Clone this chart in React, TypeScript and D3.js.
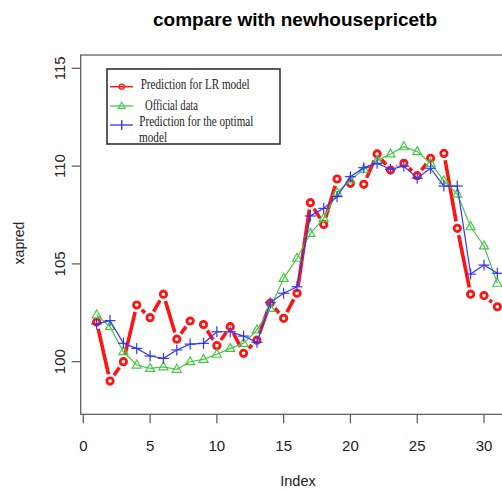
import React from "react";
import * as d3 from "d3";

const index = d3.range(1, 32);
const lrPred = [102.03, 99.01, 100.0, 102.9, 102.25, 103.45, 101.15, 102.08, 101.9, 100.82, 101.79, 100.43, 101.1, 103.0, 102.22, 103.5, 108.13, 107.02, 109.34, 109.12, 109.07, 110.62, 109.8, 110.14, 109.51, 110.4, 110.65, 106.82, 103.45, 103.38, 102.81];
const official = [102.39, 101.79, 100.51, 99.83, 99.66, 99.74, 99.61, 100.0, 100.12, 100.38, 100.68, 100.94, 101.62, 102.73, 104.26, 105.29, 106.56, 107.33, 108.64, 109.29, 109.84, 110.28, 110.62, 110.99, 110.74, 110.14, 109.25, 108.57, 106.9, 105.92, 104.01];
const optimal = [101.93, 102.1, 100.94, 100.68, 100.29, 100.17, 100.6, 100.9, 100.94, 101.53, 101.53, 101.31, 100.99, 103.02, 103.5, 103.83, 107.45, 107.84, 108.44, 109.46, 109.92, 110.14, 109.84, 110.0, 109.38, 109.89, 108.98, 108.98, 104.48, 104.94, 104.52];
const xTicks = [0, 5, 10, 15, 20, 25, 30];
const yTicks = [100, 105, 110, 115];

const RED = "#ff1414";
const GREEN = "#46c846";
const BLUE = "#3535f5";

export default function App() {
  const x = d3.scaleLinear().domain([0, 30]).range([83.3, 484]);
  const y = d3.scaleLinear().domain([100, 115]).range([361.7, 68.3]);
  const box = { l: 80.7, t: 55, r: 530, b: 414.3 };

  const redPts = index.map((d, i) => [x(d), y(lrPred[i])] as [number, number]);
  const greenPts = index.map((d, i) => [x(d), y(official[i])] as [number, number]);
  const bluePts = index.map((d, i) => [x(d), y(optimal[i])] as [number, number]);
  const line = d3.line();

  const gap = 7;
  const redSegs: JSX.Element[] = [];
  for (let i = 0; i < redPts.length - 1; i++) {
    const [x1, y1] = redPts[i];
    const [x2, y2] = redPts[i + 1];
    const dx = x2 - x1, dy = y2 - y1;
    const dist = Math.hypot(dx, dy);
    if (dist <= 2 * gap) continue;
    const ux = dx / dist, uy = dy / dist;
    redSegs.push(
      <line key={i} x1={x1 + ux * gap} y1={y1 + uy * gap} x2={x2 - ux * gap} y2={y2 - uy * gap}
        stroke={RED} strokeWidth={3.6} />
    );
  }

  const tri = (cx: number, cy: number, s: number) =>
    `M${cx},${cy - s}L${cx + s * 0.9},${cy + s * 0.6}L${cx - s * 0.9},${cy + s * 0.6}Z`;

  const sans = "Liberation Sans, Arial, sans-serif";
  const serif = "Liberation Serif, Times New Roman, serif";

  return (
    <svg width={502} height={489} style={{ position: "absolute", left: 0, top: 0, background: "#fff" }}>
      <rect x={0} y={0} width={502} height={489} fill="#fff" />
      <text x={295} y={26} textAnchor="middle" fontFamily={sans} fontWeight="bold" fontSize={18.5}
        textLength={284} lengthAdjust="spacingAndGlyphs">
        compare with newhousepricetb
      </text>
      <rect x={box.l} y={box.t} width={box.r - box.l} height={box.b - box.t} fill="none" stroke="#555" strokeWidth={1.2} />
      {xTicks.map(t => (
        <g key={t}>
          <line x1={x(t)} x2={x(t)} y1={box.b} y2={box.b + 9} stroke="#555" strokeWidth={1.2} />
          <text x={x(t)} y={451} textAnchor="middle" fontFamily={sans} fontSize={15} fill="#222">{t}</text>
        </g>
      ))}
      {yTicks.map(t => (
        <g key={t}>
          <line x1={box.l - 9} x2={box.l} y1={y(t)} y2={y(t)} stroke="#555" strokeWidth={1.2} />
          <text transform={`translate(65,${y(t)}) rotate(-90)`} textAnchor="middle" fontFamily={sans} fontSize={15} fill="#222">{t}</text>
        </g>
      ))}
      <text transform="translate(24,243) rotate(-90)" textAnchor="middle" fontFamily={sans} fontSize={14} fill="#222">xapred</text>
      <text x={298} y={486} textAnchor="middle" fontFamily={sans} fontSize={14.5} fill="#222">Index</text>

      {/* LR prediction */}
      <g>{redSegs}</g>
      {redPts.map(([cx, cy], i) => (
        <circle key={i} cx={cx} cy={cy} r={3.2} fill="none" stroke={RED} strokeWidth={2.8} />
      ))}
      {/* Official data */}
      <path d={line(greenPts) || ""} fill="none" stroke={GREEN} strokeWidth={1.2} />
      {greenPts.map(([cx, cy], i) => (
        <path key={i} d={tri(cx, cy, 5)} fill="none" stroke={GREEN} strokeWidth={1.2} />
      ))}
      {/* Optimal */}
      <path d={line(bluePts) || ""} fill="none" stroke={BLUE} strokeWidth={1.2} />
      {bluePts.map(([cx, cy], i) => (
        <g key={i} stroke={BLUE} strokeWidth={1.2}>
          <line x1={cx - 5.5} x2={cx + 5.5} y1={cy} y2={cy} />
          <line x1={cx} x2={cx} y1={cy - 5.5} y2={cy + 5.5} />
        </g>
      ))}

      {/* Legend */}
      <rect x={107} y={69} width={173} height={75} fill="#fff" stroke="#333" strokeWidth={1.6} />
      <line x1={110} x2={133} y1={86.7} y2={86.7} stroke={RED} strokeWidth={1.5} />
      <circle cx={121.7} cy={86.7} r={2.5} fill="none" stroke={RED} strokeWidth={1.3} />
      <line x1={110} x2={133} y1={106} y2={106} stroke={GREEN} strokeWidth={1.3} />
      <path d={tri(121.7, 106, 4)} fill="none" stroke={GREEN} strokeWidth={1.1} />
      <line x1={110} x2={133} y1={125} y2={125} stroke={BLUE} strokeWidth={1.3} />
      <line x1={121.7} x2={121.7} y1={120} y2={130} stroke={BLUE} strokeWidth={1.3} />
      <text x={140.7} y={89} fontFamily={serif} fontSize={15} textLength={109} lengthAdjust="spacingAndGlyphs" fill="#222">Prediction for LR model</text>
      <text x={145} y={109.5} fontFamily={serif} fontSize={15} textLength={53} lengthAdjust="spacingAndGlyphs" fill="#222">Official data</text>
      <text x={139.3} y={126} fontFamily={serif} fontSize={15} textLength={114} lengthAdjust="spacingAndGlyphs" fill="#222">Prediction for the optimal</text>
      <text x={139} y={141.5} fontFamily={serif} fontSize={15} textLength={28} lengthAdjust="spacingAndGlyphs" fill="#222">model</text>
    </svg>
  );
}
